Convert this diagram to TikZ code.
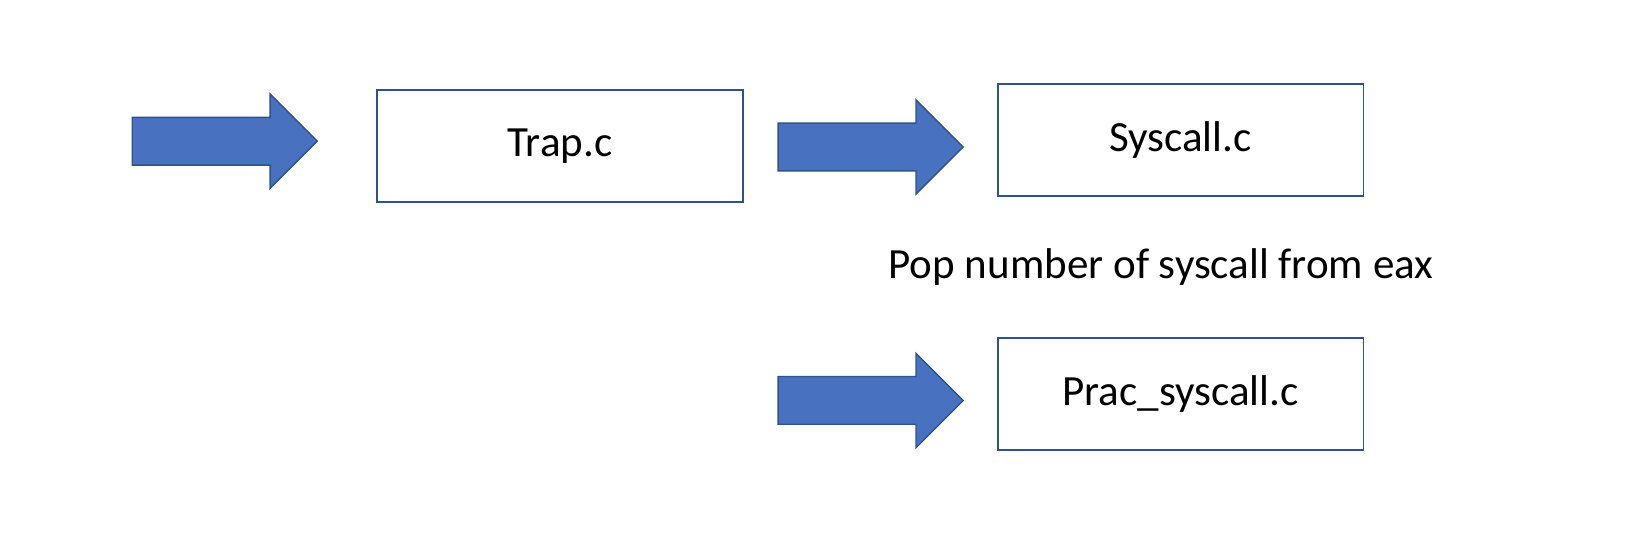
\documentclass[tikz,border=0pt]{standalone}
\usepackage{fontspec}
\setmainfont{Carlito}
\usepackage{xcolor}
\usepackage{tikz}
\usetikzlibrary{shapes.arrows,positioning}
\definecolor{arrowfill}{RGB}{72,114,192}
\definecolor{arrowline}{RGB}{47,82,143}

\tikzset{
  blockarrow/.style={single arrow, fill=arrowfill, draw=arrowline, line width=0.8pt,
    minimum height=3.7cm, single arrow head extend=0.465cm,
    inner xsep=0pt, inner ysep=0.4635cm},
  filebox/.style={draw=arrowline, line width=1.1pt, minimum width=7.32cm,
    minimum height=2.24cm, font=\fontsize{24.5}{29}\selectfont},
}

\begin{document}
\begin{tikzpicture}[x=0.02cm,y=-0.02cm]
  \useasboundingbox (0,0) rectangle (1652,550);

  % Entry into the trap handler
  \node[blockarrow] (arrowA) at (212.8,141.2) {};
  \node[filebox] (trap) at (560,146) {Trap.c};

  % Dispatch to syscall
  \node[blockarrow] (arrowB) at (858.7,147) {};
  \node[filebox] (syscall) at (1180.5,140.1) {Syscall.c};

  % Note
  \node[font=\fontsize{24.5}{29}\selectfont] (note) at (1161,266.6) {Pop number of syscall from eax};

  % Handler
  \node[blockarrow] (arrowC) at (858.7,400.4) {};
  \node[filebox] (prac) at (1180.5,394) {Prac\_syscall.c};
\end{tikzpicture}
\end{document}
